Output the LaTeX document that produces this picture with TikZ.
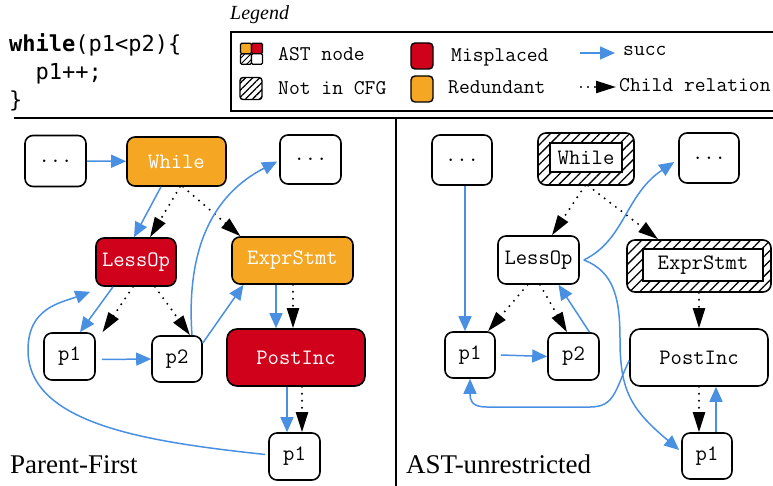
\documentclass[tikz,border=0pt]{standalone}
\usepackage{fontspec}
\newfontfamily\codefont{DejaVu Sans Mono}
\newfontfamily\capfont{Liberation Serif}
\usetikzlibrary{arrows.meta,patterns.meta}
\definecolor{succblue}{HTML}{4A90E2}
\definecolor{misred}{HTML}{D0021B}
\definecolor{redorange}{HTML}{F5A623}
\begin{document}
\begin{tikzpicture}[x=1pt,y=-1pt,
  nbox/.style={draw, line width=1.6pt, rounded corners=8pt, inner sep=0pt, fill=white,
    font=\fontsize{22}{26}\selectfont\ttfamily},
  redbox/.style={nbox, fill=misred, text=white},
  orabox/.style={nbox, fill=redorange, text=white},
  hatchbox/.style={draw, line width=1.6pt, rounded corners=8pt, inner sep=0pt,
    pattern={Lines[angle=45,distance=7pt,line width=1.3pt]}},
  innerbox/.style={draw, line width=1.6pt, fill=white, inner sep=0pt,
    font=\fontsize{22}{26}\selectfont\ttfamily},
  succ/.style={draw=succblue, line width=1.5pt, -{Triangle[length=15pt,width=13pt]}},
  child/.style={draw=black, line width=2.2pt, line cap=round, dash pattern=on 0pt off 7pt,
    -{Triangle[length=20pt,width=12pt]}},
  legtext/.style={anchor=base west, inner sep=0pt, font=\fontsize{21}{24}\selectfont\ttfamily},
  legicon/.style={draw, line width=1.4pt, rounded corners=3pt, inner sep=0pt},
  legcell/.style={draw, line width=1.3pt, rounded corners=1.2pt, inner sep=0pt,
    minimum width=11pt, minimum height=10.5pt},
  codetext/.style={anchor=base west, inner sep=0pt, font=\fontsize{22}{28}\selectfont\codefont},
  captext/.style={anchor=base west, inner sep=0pt, font=\fontsize{27}{30}\selectfont\capfont},
]
\useasboundingbox (0,0) rectangle (773,486);

% code
\node[codetext] (code1) at (9,52) {\textbf{while}(p1<p2)\{};
\node[codetext] (code2) at (9,80) {\ \ p1++;};
\node[codetext] (code3) at (9,108) {\}};

% legend
\node[anchor=base west, inner sep=0pt, font=\fontsize{20}{24}\selectfont\capfont\itshape] (legtitle) at (230,20) {Legend};
\draw[line width=1.5pt] (231,32) rectangle (778,111);
\draw[line width=1.5pt] (14,118) -- (778,118);
\draw[line width=1.5pt] (396,118) -- (396,490);

\node[legcell, fill=redorange] (ic1) at (246,48.5) {};
\node[legcell, fill=misred] (ic2) at (257,48.5) {};
\node[legcell, pattern={Lines[angle=45,distance=4pt,line width=1.1pt]}] (ic3) at (246,59) {};
\node[legcell, fill=white] (ic4) at (257,59) {};
\node[legtext] (lt1) at (278,61) {AST node};
\node[legicon, pattern={Lines[angle=45,distance=5pt,line width=1.3pt]}, minimum width=22pt, minimum height=22pt] (ic5) at (251,88.5) {};
\node[legtext] (lt2) at (278,95) {Not in CFG};
\node[legicon, fill=misred, minimum width=22pt, minimum height=26pt, rounded corners=4pt] (ic6) at (422,56) {};
\node[legtext] (lt3) at (451,62) {Misplaced};
\node[legicon, fill=redorange, minimum width=22pt, minimum height=26pt, rounded corners=4pt] (ic7) at (422,89) {};
\node[legtext] (lt4) at (448,94) {Redundant};
\coordinate (ls1) at (580,53); \coordinate (ls2) at (615,53);
\draw[succ] (ls1) -- (ls2);
\node[legtext] (lt5) at (623,56) {succ};
\coordinate (lc1) at (581,87); \coordinate (lc2) at (616,87);
\draw[child] (lc1) -- (lc2);
\node[legtext] (lt6) at (619,92) {Child relation};

% ---------- left panel ----------
\node[nbox, minimum width=61pt, minimum height=51pt] (ldotsA) at (55.5,161) {...};
\node[orabox, minimum width=99pt, minimum height=49pt] (whileL) at (176.5,161.5) {While};
\node[nbox, minimum width=61pt, minimum height=49pt] (ldotsB) at (310.5,159.5) {...};
\node[redbox, minimum width=80pt, minimum height=48pt] (lessL) at (136,262) {LessOp};
\node[orabox, minimum width=121pt, minimum height=47pt] (exprL) at (292.5,260.5) {ExprStmt};
\node[nbox, minimum width=51pt, minimum height=47pt] (p1L) at (69.5,356.5) {p1};
\node[nbox, minimum width=50pt, minimum height=46pt] (p2L) at (177,359) {p2};
\node[redbox, minimum width=138pt, minimum height=57pt, rounded corners=10pt] (postL) at (296,357.5) {PostInc};
\node[nbox, minimum width=51pt, minimum height=47pt] (p1bL) at (294.5,456.5) {p1};
\node[captext] (capL) at (10,473) {Parent-First};

\draw[succ] (ldotsA) -- (whileL);
\draw[succ] ([xshift=-15.5]whileL.south) -- ([xshift=-2]lessL.north);
\draw[child] ([xshift=3.5]whileL.south) -- ([xshift=14]lessL.north);
\draw[child] ([xshift=6.5]whileL.south) -- ([xshift=-52]exprL.north);
\draw[succ] ([xshift=-23]lessL.south) -- ([xshift=10.5]p1L.north);
\draw[child] ([xshift=-3]lessL.south) -- ([xshift=33]p1L.north);
\draw[child] ([xshift=19]lessL.south) -- ([xshift=13]p2L.north);
\draw[succ] ([xshift=15]p2L.north) .. controls (186,250) and (212,195) .. ([xshift=-2,yshift=-2]ldotsB.west);
\draw[succ] ([yshift=16]p2L.east) -- ([xshift=-49]exprL.south);
\draw[succ] ([xshift=-16.5]exprL.south) -- ([xshift=-20]postL.north);
\draw[child] ([xshift=0.5]exprL.south) -- ([xshift=-3]postL.north);
\draw[succ] ([xshift=6,yshift=-3]p1L.east) -- (p2L.west);
\draw[succ] ([xshift=-9]postL.south) -- ([xshift=-7.5]p1bL.north);
\draw[child] ([xshift=6]postL.south) -- ([xshift=7.5]p1bL.north);
\draw[succ] ([xshift=-3,yshift=2]p1bL.west) .. controls (150,442) and (28,425) .. (28,350)
   .. controls (28,308) and (60,303) .. ([xshift=-5,yshift=-5]lessL.south west);

% ---------- right panel ----------
\node[nbox, minimum width=60pt, minimum height=50pt] (rdotsA) at (462,160) {...};
\node[hatchbox, minimum width=96pt, minimum height=52pt] (whileR) at (586,159) {};
\node[innerbox, minimum width=72pt, minimum height=29pt] (whileRi) at (586,157.5) {While};
\node[nbox, minimum width=60pt, minimum height=50pt] (rdotsB) at (709,158) {...};
\node[nbox, minimum width=81pt, minimum height=48pt] (lessR) at (538.5,260) {LessOp};
\node[hatchbox, minimum width=144pt, minimum height=52pt] (exprR) at (699,266) {};
\node[innerbox, minimum width=120pt, minimum height=32pt] (exprRi) at (703,265) {ExprStmt};
\node[nbox, minimum width=50pt, minimum height=46pt] (p1R) at (470,355) {p1};
\node[nbox, minimum width=51pt, minimum height=47pt] (p2R) at (573.5,356.5) {p2};
\node[nbox, minimum width=138pt, minimum height=57pt, rounded corners=10pt] (postR) at (699,357.5) {PostInc};
\node[nbox, minimum width=50pt, minimum height=46pt] (p1bR) at (707,456) {p1};
\node[captext] (capR) at (406,473) {AST-unrestricted};

\draw[succ] ([xshift=3]rdotsA.south) -- ([xshift=-5]p1R.north);
\draw[child] ([xshift=-1]whileR.south) -- ([xshift=13.5]lessR.north);
\draw[child] ([xshift=2]whileR.south) -- ([xshift=-41]exprR.north);
\draw[succ] ([xshift=4]lessR.east) .. controls (625,240) and (625,195) .. ([xshift=-4,yshift=-4]rdotsB.west);
\draw[succ] ([xshift=4]lessR.east) .. controls (615,272) and (620,300) .. (620,340)
   .. controls (620,392) and (632,410) .. ([xshift=-2,yshift=6]p1bR.west);
\draw[child] ([xshift=-11]lessR.south) -- ([xshift=18]p1R.north);
\draw[child] ([xshift=1.5]lessR.south) -- ([xshift=-6.5]p2R.north);
\draw[succ] ([xshift=16]p2R.north) -- ([xshift=20]lessR.south);
\draw[child] (exprR.south) -- (postR.north);
\draw[succ] ([xshift=5]p1R.east) -- (p2R.west);
\draw[succ] ([yshift=-3]postR.west) .. controls (615,390) and (615,407) .. (590,407) -- (487,407)
   .. controls (471,407) and (470,400) .. (p1R.south);
\draw[child] (postR.south) -- ([xshift=-8]p1bR.north);
\draw[succ] ([xshift=9]p1bR.north) -- ([xshift=17]postR.south);
\end{tikzpicture}
\end{document}
